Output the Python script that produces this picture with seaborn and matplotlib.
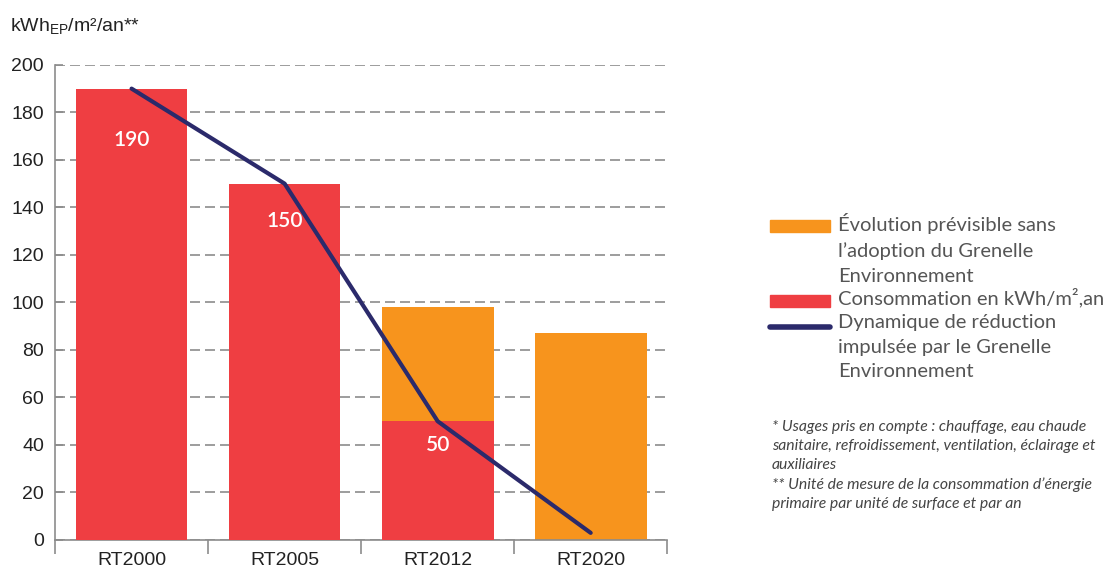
import pandas as pd
import matplotlib.pyplot as plt
import seaborn as sns
from matplotlib.patches import Rectangle
from matplotlib.lines import Line2D

categories = ['RT2000', 'RT2005', 'RT2012', 'RT2020']
consommation = [190, 150, 50, 0]
sans_grenelle = [0, 0, 98, 87]
dynamique = [190, 150, 50, 3]
value_labels = ['190', '150', '50', '']

legend_labels = [
    "Évolution prévisible sans\nl’adoption du Grenelle\nEnvironnement",
    "Consommation en kWh/m²,an",
    "Dynamique de réduction\nimpulsée par le Grenelle\nEnvironnement",
]
footnote = ("* Usages pris en compte : chauffage, eau chaude\n"
            "sanitaire, refroidissement, ventilation, éclairage et\n"
            "auxiliaires\n"
            "** Unité de mesure de la consommation d’énergie\n"
            "primaire par unité de surface et par an")

red = '#ef3e42'
orange = '#f7941d'
navy = '#2b2a6b'
grey = '#8c8c8c'

sns.set_style('white')
plt.rcParams['font.family'] = ['Liberation Sans Narrow', 'Liberation Sans', 'DejaVu Sans']
plt.rcParams['mathtext.default'] = 'regular'

df = pd.DataFrame({'rt': categories, 'conso': consommation,
                   'total': sans_grenelle, 'dyn': dynamique})

W, H = 1112, 569
fig = plt.figure(figsize=(W / 100, H / 100), dpi=100)
ax = fig.add_axes([0.0495, 0.051, 0.5505, 0.835])

ax.yaxis.grid(True, linestyle=(0, (6, 3)), color=grey, linewidth=1.2)
ax.set_axisbelow(True)

sns.barplot(data=df, x='rt', y='total', color=orange, width=0.73,
            saturation=1, linewidth=0, ax=ax, zorder=2)
sns.barplot(data=df, x='rt', y='conso', color=red, width=0.73,
            saturation=1, linewidth=0, ax=ax, zorder=3)
ax.plot(range(len(categories)), df['dyn'], color=navy, linewidth=3,
        zorder=5, solid_capstyle='round')

label_offsets = [-37, -27, -17, 0]
for i, (v, lab) in enumerate(zip(consommation, value_labels)):
    if lab:
        ax.annotate(lab, (i, v), xytext=(0, label_offsets[i]),
                    textcoords='offset points', ha='center', va='center',
                    color='white', fontsize=15, fontfamily='Lato',
                    fontweight='semibold', zorder=6)

ax.set_ylim(0, 200)
ax.set_xlim(-0.5, 3.5)
ax.set_yticks(range(0, 201, 20))
ax.set_xlabel('')
ax.set_ylabel('')
ax.tick_params(axis='y', labelsize=14, length=6, direction='in', color=grey,
               width=1.2, left=True, pad=8, labelcolor='#222222')
ax.tick_params(axis='x', labelsize=14, length=0, pad=9, labelcolor='#222222')
ax.set_xticks([-0.5, 0.5, 1.5, 2.5, 3.5], minor=True)
ax.tick_params(axis='x', which='minor', length=10, width=1.2, color=grey,
               bottom=True)
for s in ['top', 'right']:
    ax.spines[s].set_visible(False)
for s in ['left', 'bottom']:
    ax.spines[s].set_color(grey)
    ax.spines[s].set_linewidth(1.2)

fig.text(0.009, 0.955, r'kWh$_{EP}$/m²/an**', fontsize=14, color='#222222',
         va='center')

# legend drawn by hand so the keys sit on the first line of each label
legend_keys = ['patch', 'patch', 'line']
legend_colors = [orange, red, navy]
key_y = [226, 301, 327]
for kind, col, y, lab in zip(legend_keys, legend_colors, key_y, legend_labels):
    fy = 1 - y / H
    if kind == 'patch':
        fig.add_artist(Rectangle((770 / W, fy - 6 / H), 60 / W, 12 / H,
                                 color=col, transform=fig.transFigure))
    else:
        fig.add_artist(Line2D([770 / W, 830 / W], [fy, fy], color=col,
                              linewidth=4, transform=fig.transFigure))
    fig.text(838 / W, fy + 13 / H, lab, fontsize=14.5, family='Lato',
             color='#555555', va='top', linespacing=1.55)

fig.text(0.694, 0.262, footnote, fontsize=11.3, fontstyle='italic',
         family='Lato', color='#444444', va='top', linespacing=1.45)

fig.savefig('out.png', dpi=100)
